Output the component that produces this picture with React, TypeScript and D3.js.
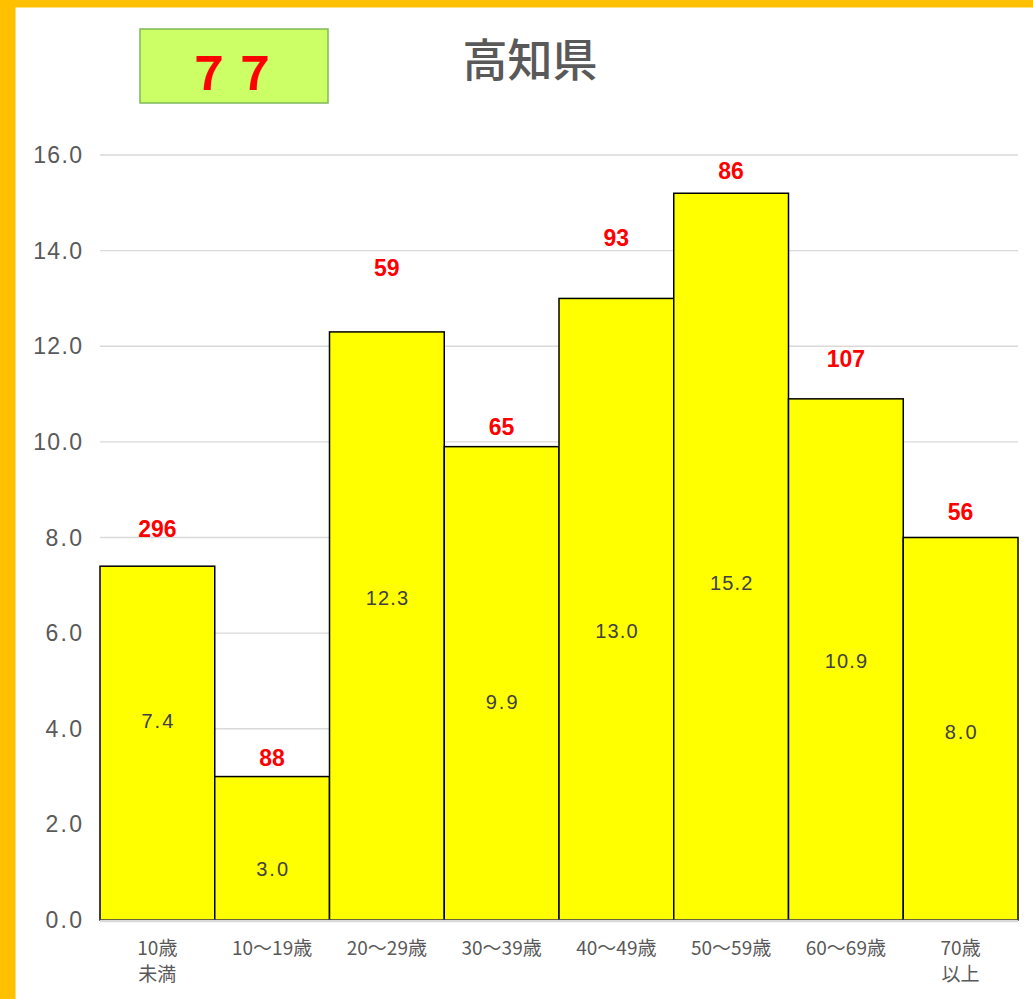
import React from 'react';
import * as d3 from 'd3';

const categories = ['10歳\n未満', '10～19歳', '20～29歳', '30～39歳', '40～49歳', '50～59歳', '60～69歳', '70歳\n以上'];
const rates = [7.4, 3.0, 12.3, 9.9, 13.0, 15.2, 10.9, 8.0];
const counts = [296, 88, 59, 65, 93, 86, 107, 56];
// hidden series the red count labels sit on
const countLevels = [8.18, 3.39, 13.64, 10.31, 14.27, 15.67, 11.74, 8.54];
// where the rate labels sit inside the bars
const rateLevels = [4.16, 1.07, 6.74, 4.56, 6.05, 7.05, 5.42, 3.93];
const yTicks = [0, 2, 4, 6, 8, 10, 12, 14, 16];
const title = '高知県';
const badge = '７７';

const W = 1033;
const H = 999;
const margin = {left: 100, right: 15, top: 155, bottom: 79};

const App = () => {
  const x = d3.scaleBand<string>()
    .domain(categories)
    .range([margin.left, W - margin.right])
    .padding(0);
  const y = d3.scaleLinear().domain([0, 16]).range([H - margin.bottom, margin.top]);
  const fmt = d3.format('.1f');
  const gray = '#595959';
  const jp = '"Noto Sans CJK JP", sans-serif';
  const sans = '"Liberation Sans", sans-serif';

  return <svg width={W} height={H} style={{position: 'absolute', left: 0, top: 0}}>
    <rect x={0} y={0} width={W} height={H} fill="#FFC000" />
    <rect x={15.5} y={7.5} width={W} height={H} fill="#ffffff" />

    <rect x={140} y={29} width={188} height={74} fill="#CCFF66" stroke="#7FB85A" strokeWidth={1.5} />
    <text x={232} y={70} textAnchor="middle" dominantBaseline="central" fill="#FF0000"
      fontFamily={jp} fontWeight="bold" fontSize={46}>{badge}</text>
    <text x={530} y={57} textAnchor="middle" dominantBaseline="central" fill={gray}
      fontFamily={jp} fontWeight={500} fontSize={45}>{title}</text>

    {yTicks.map(t => {
      const s = fmt(t);
      return <g key={t}>
        {t > 0 && <line x1={margin.left} x2={W - margin.right} y1={y(t)} y2={y(t)} stroke="#D9D9D9" strokeWidth={1.3} />}
        <text x={82} y={y(t)} textAnchor="end" dominantBaseline="central" fill={gray}
          fontFamily={sans} fontSize={23} textLength={s.length * 12.2} lengthAdjust="spacing">{s}</text>
      </g>;
    })}

    {rates.map((v, i) => {
      const c = categories[i];
      const bx = x(c) as number;
      const s = fmt(v);
      return <g key={c}>
        <rect x={bx} y={y(v)} width={x.bandwidth()} height={y(0) - y(v)} fill="#FFFF00" stroke="#000000" strokeWidth={1.5} />
        <text x={bx + x.bandwidth() / 2} y={y(rateLevels[i])} textAnchor="middle" dominantBaseline="central"
          fill="#404040" fontFamily={sans} fontSize={20} textLength={s.length * 10.6} lengthAdjust="spacing">{s}</text>
        <text x={bx + x.bandwidth() / 2} y={y(countLevels[i])} textAnchor="middle" dominantBaseline="central"
          fill="#FF0000" fontFamily={sans} fontWeight="bold" fontSize={23}>{counts[i]}</text>
      </g>;
    })}

    <line x1={margin.left} x2={W - margin.right} y1={y(0) + 1} y2={y(0) + 1} stroke="#D9D9D9" strokeWidth={2.5} />

    {categories.map(c => {
      const lines = c.split('\n');
      return <text key={c} x={(x(c) as number) + x.bandwidth() / 2} y={946} textAnchor="middle" dominantBaseline="central"
        fill={gray} fontFamily={jp} fontSize={19}>
        {lines.map((l, j) => <tspan key={j} x={(x(c) as number) + x.bandwidth() / 2} dy={j === 0 ? 0 : 26}>{l}</tspan>)}
      </text>;
    })}
  </svg>;
};

export default App;
